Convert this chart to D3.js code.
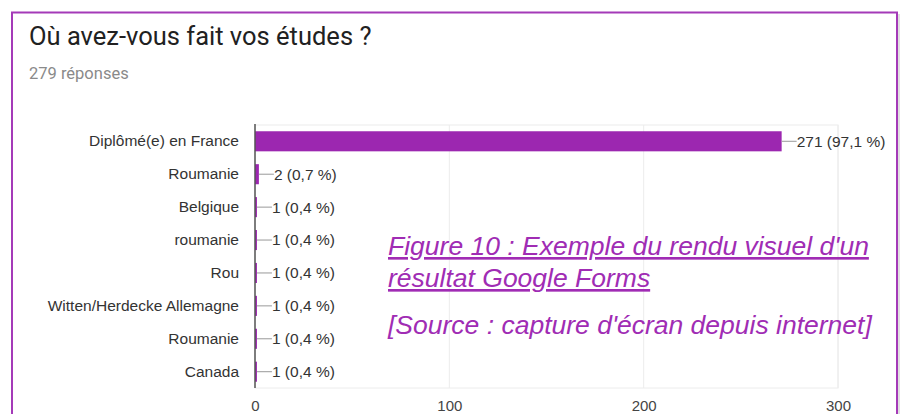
<!DOCTYPE html>
<html>
<head>
<meta charset="utf-8">
<script src="https://cdn.jsdelivr.net/npm/d3@7"></script>
<style>
  body { margin: 0; background: #fff; }
  svg { display: block; }
</style>
</head>
<body>
<div id="chart"></div>
<script>
const categories = ['Diplômé(e) en France', 'Roumanie', 'Belgique', 'roumanie', 'Rou',
    'Witten/Herdecke Allemagne', 'Roumanie', 'Canada']
const counts = [271, 2, 1, 1, 1, 1, 1, 1]
const percents = ['97,1', '0,7', '0,4', '0,4', '0,4', '0,4', '0,4', '0,4']
const xTicks = [0, 100, 200, 300]

const title = 'Où avez-vous fait vos études ?'
const subtitle = '279 réponses'
const caption = ["Figure 10 : Exemple du rendu visuel d'un", 'résultat Google Forms']
const source = "[Source : capture d'écran depuis internet]"

const width = 904
const height = 414
const purple = '#9c27b0'
const plot = {left: 255, right: 838, top: 125, bottom: 388}
const sans = 'Liberation Sans, Arial, sans-serif'

const svg = d3.select('#chart')
    .append('svg')
    .attr('width', width)
    .attr('height', height)

// card with purple border and a light shadow on the right
svg.append('rect')
    .attr('x', 14).attr('y', 14)
    .attr('width', 886).attr('height', 420)
    .attr('fill', '#ccc')
    .attr('opacity', 0.6)
svg.append('rect')
    .attr('x', 12).attr('y', 12.5)
    .attr('width', 885).attr('height', 420)
    .attr('fill', '#fff')
    .attr('stroke', '#a43ab8')
    .attr('stroke-width', 2)

svg.append('text')
    .attr('x', 29).attr('y', 45)
    .attr('font-family', 'Roboto, sans-serif')
    .attr('font-size', 25.5)
    .attr('fill', '#212121')
    .text(title)

svg.append('text')
    .attr('x', 29).attr('y', 79)
    .attr('font-family', 'Roboto, sans-serif')
    .attr('font-size', 16.5)
    .attr('fill', '#8a8a8a')
    .text(subtitle)

const rows = categories.map((c, i) => ({label: c, count: counts[i], pct: percents[i], idx: i}))

const x = d3.scaleLinear()
    .domain([0, 300])
    .range([plot.left, plot.right])

const y = d3.scaleBand()
    .domain(rows.map(d => d.idx))
    .range([plot.top, plot.bottom])
    .paddingInner(0.39)
    .paddingOuter(0.19)

const graph = svg.append('g')

// frame + gridlines
graph.append('rect')
    .attr('x', plot.left).attr('y', plot.top)
    .attr('width', plot.right - plot.left)
    .attr('height', plot.bottom - plot.top)
    .attr('fill', 'none')
    .attr('stroke', '#ececec')
graph.selectAll('.grid')
    .data(xTicks.slice(1))
    .join('line')
    .attr('class', 'grid')
    .attr('x1', d => x(d)).attr('x2', d => x(d))
    .attr('y1', plot.top).attr('y2', plot.bottom)
    .attr('stroke', '#ececec')

const xAxis = graph.append('g')
    .attr('transform', `translate(0,${plot.bottom})`)
    .call(d3.axisBottom(x).tickValues(xTicks).tickSize(0).tickPadding(12))
xAxis.select('.domain').remove()
xAxis.selectAll('text')
    .attr('font-family', sans)
    .attr('font-size', 15)
    .attr('fill', '#444')

const yAxis = graph.append('g')
    .attr('transform', `translate(${plot.left},0)`)
    .call(d3.axisLeft(y).tickFormat(i => categories[i]).tickSize(0).tickPadding(16))
yAxis.select('.domain').remove()
yAxis.selectAll('text')
    .attr('font-family', sans)
    .attr('font-size', 15.5)
    .attr('fill', '#333')

graph.selectAll('.bar')
    .data(rows)
    .join('rect')
    .attr('class', 'bar')
    .attr('x', x(0))
    .attr('y', d => y(d.idx))
    .attr('width', d => x(d.count) - x(0))
    .attr('height', y.bandwidth())
    .attr('fill', purple)

graph.append('line')
    .attr('x1', x(0)).attr('x2', x(0))
    .attr('y1', plot.top - 1).attr('y2', plot.bottom)
    .attr('stroke', '#555')
    .attr('stroke-width', 1.5)

// value labels with a short leader line
graph.selectAll('.leader')
    .data(rows)
    .join('line')
    .attr('class', 'leader')
    .attr('x1', d => x(d.count)).attr('x2', d => x(d.count) + 15)
    .attr('y1', d => y(d.idx) + y.bandwidth() / 2)
    .attr('y2', d => y(d.idx) + y.bandwidth() / 2)
    .attr('stroke', '#999')

graph.selectAll('.value')
    .data(rows)
    .join('text')
    .attr('class', 'value')
    .attr('x', d => x(d.count) + 15)
    .attr('y', d => y(d.idx) + y.bandwidth() / 2)
    .attr('dy', '0.35em')
    .attr('font-family', sans)
    .attr('font-size', 15.5)
    .attr('fill', '#333')
    .text(d => `${d.count} (${d.pct} %)`)

// caption overlay
const cap = svg.append('g')
    .attr('font-family', sans)
    .attr('font-style', 'italic')
    .attr('font-size', 26.5)
    .attr('fill', '#a02cb4')
caption.forEach((t, i) => {
    cap.append('text')
        .attr('x', 388).attr('y', 255 + i * 32)
        .attr('text-decoration', 'underline')
        .text(t)
})
cap.append('text')
    .attr('x', 388).attr('y', 334)
    .text(source)
</script>
</body>
</html>
